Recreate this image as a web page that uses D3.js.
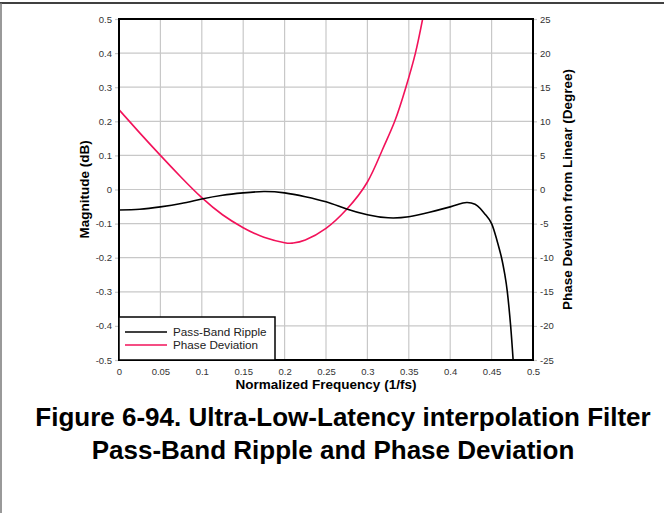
<!DOCTYPE html>
<html>
<head>
<meta charset="utf-8">
<script src="https://cdn.jsdelivr.net/npm/d3@7"></script>
<style>
  body { margin: 0; background: #fff; }
  svg { display: block; font-family: "Liberation Sans", Arial, sans-serif; }
</style>
</head>
<body>
<div id="chart"></div>
<script>
// chart data
var freqTicks = [0, 0.05, 0.1, 0.15, 0.2, 0.25, 0.3, 0.35, 0.4, 0.45, 0.5];
var magTicks = [0.5, 0.4, 0.3, 0.2, 0.1, 0, -0.1, -0.2, -0.3, -0.4, -0.5];
var phaseTicks = [25, 20, 15, 10, 5, 0, -5, -10, -15, -20, -25];

var rippleFreq = [0, 0.025, 0.05, 0.075, 0.1, 0.125, 0.15, 0.175, 0.2, 0.225, 0.25, 0.275, 0.3, 0.325, 0.35, 0.375, 0.4, 0.41, 0.42, 0.43, 0.436, 0.443, 0.45, 0.456, 0.462, 0.466, 0.469, 0.473, 0.476];
var rippleDb = [-0.060, -0.058, -0.051, -0.041, -0.028, -0.017, -0.010, -0.006, -0.010, -0.021, -0.036, -0.057, -0.074, -0.083, -0.080, -0.067, -0.051, -0.043, -0.038, -0.043, -0.055, -0.075, -0.100, -0.145, -0.200, -0.250, -0.300, -0.400, -0.500];

var phaseFreq = [0, 0.025, 0.05, 0.075, 0.1, 0.125, 0.15, 0.175, 0.2, 0.21, 0.225, 0.25, 0.275, 0.3, 0.318, 0.333, 0.3465, 0.358, 0.3667];
var phaseDeg = [11.7, 8.3, 5.0, 1.8, -1.2, -3.7, -5.6, -7.0, -7.8, -7.85, -7.4, -5.7, -2.9, 1.1, 5.8, 10, 15, 20, 25];

var seriesNames = ["Pass-Band Ripple", "Phase Deviation"];
var seriesColors = ["#000000", "#f2125a"];

var width = 664, height = 513;
var margin = ({top: 19, right: 131, bottom: 153, left: 119});

var svg = d3.select("#chart").append("svg")
    .attr("width", width)
    .attr("height", height);

// page frame
svg.append("line").attr("x1", 0).attr("x2", width).attr("y1", 3).attr("y2", 3)
    .attr("stroke", "#000").attr("stroke-width", 1.5);
svg.append("line").attr("x1", 1).attr("x2", 1).attr("y1", 3).attr("y2", height)
    .attr("stroke", "#777").attr("stroke-width", 1.5);

var x = d3.scaleLinear().domain([0, 0.5]).range([margin.left, width - margin.right]);
var y = d3.scaleLinear().domain([-0.5, 0.5]).range([height - margin.bottom, margin.top]);
var y2 = d3.scaleLinear().domain([-25, 25]).range([height - margin.bottom, margin.top]);

// grid
svg.append("g").selectAll("line").data(freqTicks.slice(1, -1)).join("line")
    .attr("x1", d => x(d)).attr("x2", d => x(d))
    .attr("y1", margin.top).attr("y2", height - margin.bottom)
    .attr("stroke", "#c8c8c8").attr("stroke-width", 1.2);
svg.append("g").selectAll("line").data(magTicks.slice(1, -1)).join("line")
    .attr("x1", margin.left).attr("x2", width - margin.right)
    .attr("y1", d => y(d)).attr("y2", d => y(d))
    .attr("stroke", "#c8c8c8").attr("stroke-width", 1.2);

var plain = d => String(d);
var tickFont = g => g
    .attr("font-size", 9.5)
    .attr("font-family", "'Liberation Sans', Arial, sans-serif")
    .call(g => g.select(".domain").remove())
    .call(g => g.selectAll(".tick line").attr("stroke", "#c8c8c8").attr("stroke-width", 1.2))
    .call(g => g.selectAll(".tick text").attr("fill", "#333"));

svg.append("g")
    .attr("transform", `translate(0,${height - margin.bottom})`)
    .call(d3.axisBottom(x).tickValues(freqTicks).tickSize(0).tickPadding(8).tickFormat(plain))
    .call(tickFont);

svg.append("g")
    .attr("transform", `translate(${margin.left},0)`)
    .call(d3.axisLeft(y).tickValues(magTicks).tickSize(4).tickPadding(3).tickFormat(plain))
    .call(tickFont);

svg.append("g")
    .attr("transform", `translate(${width - margin.right},0)`)
    .call(d3.axisRight(y2).tickValues(phaseTicks).tickSize(4).tickPadding(3).tickFormat(plain))
    .call(tickFont);

// clip & curves
svg.append("clipPath").attr("id", "clip").append("rect")
    .attr("x", margin.left).attr("y", margin.top)
    .attr("width", width - margin.left - margin.right)
    .attr("height", height - margin.top - margin.bottom);

var ripple = rippleFreq.map((f, i) => ({f: f, v: rippleDb[i]}));
var phase = phaseFreq.map((f, i) => ({f: f, v: phaseDeg[i]}));

svg.append("path")
    .datum(phase)
    .attr("clip-path", "url(#clip)")
    .attr("fill", "none")
    .attr("stroke", seriesColors[1])
    .attr("stroke-width", 1.6)
    .attr("d", d3.line().curve(d3.curveNatural).x(d => x(d.f)).y(d => y2(d.v)));

svg.append("path")
    .datum(ripple)
    .attr("clip-path", "url(#clip)")
    .attr("fill", "none")
    .attr("stroke", seriesColors[0])
    .attr("stroke-width", 1.6)
    .attr("d", d3.line().curve(d3.curveNatural).x(d => x(d.f)).y(d => y(d.v)));

// plot frame
svg.append("rect")
    .attr("x", margin.left).attr("y", margin.top)
    .attr("width", width - margin.left - margin.right)
    .attr("height", height - margin.top - margin.bottom)
    .attr("fill", "none").attr("stroke", "#000").attr("stroke-width", 2);

// legend
var legend = svg.append("g");
legend.append("rect")
    .attr("x", margin.left).attr("y", 317)
    .attr("width", 156).attr("height", height - margin.bottom - 317)
    .attr("fill", "#fff").attr("stroke", "#000").attr("stroke-width", 1.5);
seriesNames.forEach(function(name, i) {
  legend.append("line")
      .attr("x1", 125).attr("x2", 167)
      .attr("y1", 332 + i * 13).attr("y2", 332 + i * 13)
      .attr("stroke", seriesColors[i]).attr("stroke-width", 1.6);
  legend.append("text")
      .attr("x", 173).attr("y", 336 + i * 13)
      .attr("font-size", 11.7).attr("fill", "#222")
      .text(name);
});

// axis titles
svg.append("text")
    .attr("x", x(0.25)).attr("y", 389)
    .attr("text-anchor", "middle").attr("font-size", 13.5).attr("font-weight", "bold")
    .text("Normalized Frequency (1/fs)");
svg.append("text")
    .attr("transform", `translate(89,${y(0)}) rotate(-90)`)
    .attr("text-anchor", "middle").attr("font-size", 13.5).attr("font-weight", "bold")
    .text("Magnitude (dB)");
svg.append("text")
    .attr("transform", `translate(572,${y(0)}) rotate(-90)`)
    .attr("text-anchor", "middle").attr("font-size", 13.5).attr("font-weight", "bold")
    .text("Phase Deviation from Linear (Degree)");

// caption
var caption = ["Figure 6-94. Ultra-Low-Latency interpolation Filter", "Pass-Band Ripple and Phase Deviation"];
var captionX = [343, 333];
svg.append("g").selectAll("text").data(caption).join("text")
    .attr("x", (d, i) => captionX[i]).attr("y", (d, i) => 426 + i * 33)
    .attr("text-anchor", "middle").attr("font-size", 26).attr("font-weight", "bold")
    .text(d => d);
</script>
</body>
</html>
